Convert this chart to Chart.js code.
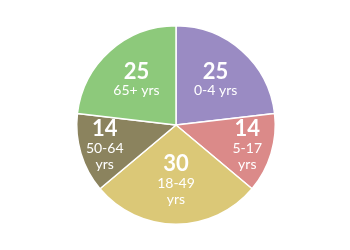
<!DOCTYPE html>
<html>
<head>
<meta charset="utf-8">
<script src="https://cdn.jsdelivr.net/npm/chart.js@4"></script>
<style>
  html, body { margin: 0; padding: 0; background: #fff; }
  #wrap { width: 350px; height: 250px; }
</style>
</head>
<body>
<div id="wrap"><canvas id="chartUsia"></canvas></div>
<script>
// Kategori usia (baris dipisah dengan \n seperti di gambar)
const kategori = ['0-4 yrs', '5-17\nyrs', '18-49\nyrs', '50-64\nyrs', '65+ yrs'];
const nilai = [25, 14, 30, 14, 25];
const warna = ['#9a8bc3', '#db8a89', '#dbc877', '#8b835e', '#8dc97b'];

// Label angka + kategori di dalam irisan
const labelDalam = {
  id: 'labelDalam',
  afterDatasetsDraw(chart) {
    const ctx = chart.ctx;
    const meta = chart.getDatasetMeta(0);
    meta.data.forEach((arc, i) => {
      const span = (arc.endAngle - arc.startAngle) * 180 / Math.PI;
      const mid = (arc.startAngle + arc.endAngle) / 2;
      // irisan sempit -> teks lebih ke luar
      const f = 0.409 + 15.9 / span;
      const r = arc.outerRadius * f;
      const cx = arc.x + Math.cos(mid) * r;
      const cy = arc.y + Math.sin(mid) * r;
      const baris = kategori[i].split('\n');
      const tinggi = 20 + baris.length * 16;
      let y = cy - tinggi / 2;
      ctx.save();
      ctx.fillStyle = '#ffffff';
      ctx.textAlign = 'center';
      ctx.textBaseline = 'middle';
      ctx.font = 'bold 22px Lato';
      ctx.fillText(String(nilai[i]), cx, y + 9);
      y += 20;
      ctx.font = '14px Lato';
      baris.forEach(b => {
        ctx.fillText(b, cx, y + 8);
        y += 16;
      });
      ctx.restore();
    });
  }
};

new Chart(document.getElementById('chartUsia'), {
  type: 'pie',
  data: {
    labels: kategori,
    datasets: [{
      data: nilai,
      backgroundColor: warna,
      borderColor: '#ffffff',
      borderWidth: 1.5
    }]
  },
  options: {
    responsive: true,
    maintainAspectRatio: false,
    animation: false,
    layout: { padding: { top: 25, bottom: 25, left: 2, right: 0 } },
    plugins: {
      legend: { display: false },
      tooltip: { enabled: false }
    }
  },
  plugins: [labelDalam]
});
</script>
</body>
</html>
